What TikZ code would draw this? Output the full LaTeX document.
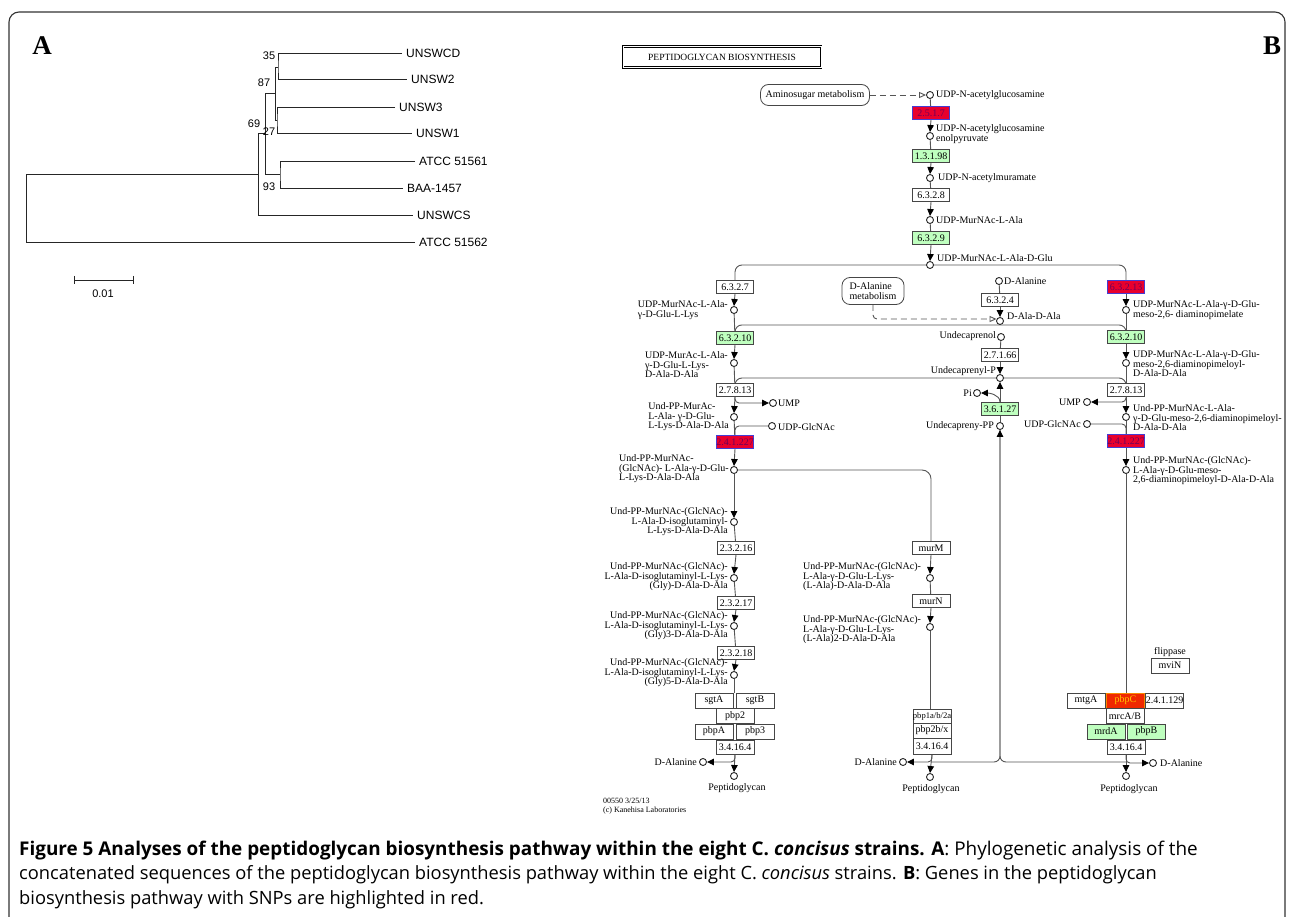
\documentclass[tikz,border=0pt]{standalone}
\usepackage{fontspec}
\setmainfont{Liberation Serif}
\newfontfamily\treefont{Liberation Sans}
\newfontfamily\capfont{Open Sans}
\usetikzlibrary{arrows.meta,calc}
\pgfdeclarelayer{bg}
\pgfdeclarelayer{paper}
\pgfsetlayers{paper,bg,main}
\definecolor{kgreen}{RGB}{191,255,191}
\definecolor{kred}{RGB}{232,0,45}
\definecolor{kredtxt}{RGB}{110,0,90}
\definecolor{kblue}{RGB}{70,60,210}
\definecolor{porange}{RGB}{240,40,0}
\definecolor{pyellow}{RGB}{255,200,0}
\definecolor{boxc}{RGB}{70,70,70}
\definecolor{linec}{RGB}{85,85,85}
\newcommand{\kf}{\fontsize{10}{9.5}\selectfont}
\tikzset{
  ebox/.style={draw=boxc, line width=0.8pt, fill=white, minimum width=37pt, minimum height=13pt, inner sep=0pt, font=\kf},
  gbox/.style={ebox, fill=kgreen},
  rbox/.style={ebox, fill=kred, draw=kblue, text=kredtxt},
  mapbox/.style={draw=boxc, line width=0.8pt, fill=white, rounded corners=8pt, inner sep=0pt, font=\kf, align=left},
  cpd/.style={circle, draw=black!85, line width=0.9pt, fill=white, minimum size=7pt, inner sep=0pt},
  lab/.style={font=\kf, inner sep=0pt},
  ln/.style={draw=linec, line width=0.9pt},
  arr/.style={ln, -{Triangle[width=6.5pt,length=7pt,color=black]}},
  tree/.style={draw=black!85, line width=0.8pt},
  leaf/.style={font=\treefont\fontsize{12}{12}\selectfont, anchor=west, inner sep=4pt},
  boot/.style={font=\treefont\fontsize{11}{11}\selectfont, inner sep=0pt},
  capl/.style={anchor=base west, inner sep=0pt, font=\capfont\fontsize{18.3}{20}\selectfont}
}
\begin{document}
\begin{tikzpicture}[x=1pt,y=-1pt]
\useasboundingbox (0,0) rectangle (1290,917);
\begin{pgfonlayer}{paper}
\fill[white] (0,0) rectangle (1290,917);
\end{pgfonlayer}
% frame
\draw[draw=black!80, line width=1.1pt, rounded corners=10pt] (9,925) -- (9,12) -- (1285,12) -- (1285,925);
\node[font=\bfseries\fontsize{27}{27}\selectfont, inner sep=0pt] (labA) at (42,46) {A};
\node[font=\bfseries\fontsize{27}{27}\selectfont, inner sep=0pt] (labB) at (1272,46) {B};

% ---------- Panel A: tree ----------
\node[leaf] (L1) at (402,53) {UNSWCD};
\node[leaf] (L2) at (407,79) {UNSW2};
\node[leaf] (L3) at (395,107) {UNSW3};
\node[leaf] (L4) at (412,133) {UNSW1};
\node[leaf] (L5) at (415,161) {ATCC 51561};
\node[leaf] (L6) at (403,188) {BAA-1457};
\node[leaf] (L7) at (413,215) {UNSWCS};
\node[leaf] (L8) at (415,242) {ATCC 51562};
\coordinate (root) at (26,174);
\draw[tree] (258,174) -- (root) |- (L8.west);
\draw[tree] (265,133) -- (258,133) |- (L7.west);
\draw[tree] (275,93) -- (265,93) -- (265,174) -- (280,174);
\draw[tree] (L5.west) -| (280,174) |- (L6.west);
\draw[tree] (278,67) -- (275,67) -- (275,120) -- (277,120);
\draw[tree] (L1.west) -| (278,67) |- (L2.west);
\draw[tree] (L3.west) -| (277,120) |- (L4.west);
\node[boot] (b35) at (269,56) {35};
\node[boot] (b87) at (264,83) {87};
\node[boot] (b69) at (254,124) {69};
\node[boot] (b27) at (269,132) {27};
\node[boot] (b93) at (269,187) {93};
\coordinate (sb1) at (74,280);
\coordinate (sb2) at (133,280);
\draw[tree] (sb1) -- (sb2);
\draw[tree] ($(sb1)+(0,-4)$) -- ($(sb1)+(0,4)$);
\draw[tree] ($(sb2)+(0,-4)$) -- ($(sb2)+(0,4)$);
\node[boot] (sbl) at (103,294) {0.01};

% ---------- Panel B: KEGG ----------
\node[draw=black, line width=2.4pt, minimum width=198pt, minimum height=21pt, inner sep=0pt, font=\fontsize{9.5}{9.5}\selectfont] (title) at (722,57) {PEPTIDOGLYCAN BIOSYNTHESIS};
\draw[white, line width=0.6pt] ($(title.south west)+(1.2,-1.2)$) rectangle ($(title.north east)+(-1.2,1.2)$);

% main column
\node[mapbox, minimum width=109pt, minimum height=21pt, align=center] (amino) at (815,95) {Aminosugar metabolism};
\node[cpd] (c1) at (930,95) {};
\node[lab, anchor=west] (t1) at (936,95) {UDP-N-acetylglucosamine};
\node[rbox] (e1) at (931,113) {2.5.1.7};
\node[cpd] (c2) at (930,136) {};
\node[lab, anchor=west, align=left] (t2) at (936,134) {UDP-N-acetylglucosamine\\enolpyruvate};
\node[gbox] (e2) at (931,156) {1.3.1.98};
\node[cpd] (c3) at (930,178) {};
\node[lab, anchor=west] (t3) at (938,178) {UDP-N-acetylmuramate};
\node[ebox] (e3) at (931,195) {6.3.2.8};
\node[cpd] (c4) at (930,220) {};
\node[lab, anchor=west] (t4) at (936,220) {UDP-MurNAc-L-Ala};
\node[gbox] (e4) at (931,238) {6.3.2.9};
\node[cpd] (c5) at (930,265) {};
\node[lab, anchor=west] (t5) at (937,258) {UDP-MurNAc-L-Ala-D-Glu};

% left column
\node[ebox] (l1) at (735,287) {6.3.2.7};
\node[cpd] (lc1) at (734,310) {};
\node[lab, anchor=east, align=left] (tl1) at (728,310) {UDP-MurNAc-L-Ala-\\γ-D-Glu-L-Lys};
\node[gbox] (l2) at (735,338) {6.3.2.10};
\node[cpd] (lc2) at (734,363) {};
\node[lab, anchor=east, align=left] (tl2) at (728,365) {UDP-MurAc-L-Ala-\\γ-D-Glu-L-Lys-\\D-Ala-D-Ala};
\node[ebox] (l3) at (735,390) {2.7.8.13};
\node[cpd] (ump) at (773,403) {};
\node[lab, anchor=west] (tump) at (778,403) {UMP};
\node[cpd] (lc3) at (734,417) {};
\node[lab, anchor=east, align=left] (tl3) at (729,417) {Und-PP-MurAc-\\L-Ala- γ-D-Glu-\\L-Lys-D-Ala-D-Ala};
\node[cpd] (udpg) at (772,426) {};
\node[lab, anchor=west] (tudpg) at (778,427) {UDP-GlcNAc};
\node[rbox] (l4) at (735,442) {2.4.1.227};
\node[cpd] (lc4) at (734,470) {};
\node[lab, anchor=east, align=left] (tl4) at (729,469) {Und-PP-MurNAc-\\(GlcNAc)- L-Ala-γ-D-Glu-\\L-Lys-D-Ala-D-Ala};
\node[cpd] (lc5) at (734,522) {};
\node[lab, anchor=east, align=right] (tl5) at (728,522) {Und-PP-MurNAc-(GlcNAc)-\\L-Ala-D-isoglutaminyl-\\L-Lys-D-Ala-D-Ala};
\node[ebox] (l5) at (736,548) {2.3.2.16};
\node[cpd] (lc6) at (734,578) {};
\node[lab, anchor=east, align=right] (tl6) at (728,577) {Und-PP-MurNAc-(GlcNAc)-\\L-Ala-D-isoglutaminyl-L-Lys-\\(Gly)-D-Ala-D-Ala};
\node[ebox] (l6) at (736,603) {2.3.2.17};
\node[cpd] (lc7) at (734,626) {};
\node[lab, anchor=east, align=right] (tl7) at (728,626) {Und-PP-MurNAc-(GlcNAc)-\\L-Ala-D-isoglutaminyl-L-Lys-\\(Gly)3-D-Ala-D-Ala};
\node[ebox] (l7) at (736,653) {2.3.2.18};
\node[cpd] (lc8) at (734,675) {};
\node[lab, anchor=east, align=right] (tl8) at (728,673) {Und-PP-MurNAc-(GlcNAc)-\\L-Ala-D-isoglutaminyl-L-Lys-\\(Gly)5-D-Ala-D-Ala};
\node[ebox, minimum width=38pt, minimum height=15pt] (sgtA) at (714,700.5) {sgtA};
\node[ebox, minimum width=38pt, minimum height=15pt] (sgtB) at (755,700.5) {sgtB};
\node[ebox, minimum width=38pt, minimum height=15pt] (pbp2) at (735,716) {pbp2};
\node[ebox, minimum width=38pt, minimum height=15pt] (pbpA) at (714,731.5) {pbpA};
\node[ebox, minimum width=38pt, minimum height=15pt] (pbp3) at (755,731.5) {pbp3};
\node[ebox, minimum width=38pt, minimum height=14pt] (l8) at (735,747) {3.4.16.4};
\node[cpd] (dalaL) at (703,762) {};
\node[lab, anchor=east] (tdalaL) at (697,762) {D-Alanine};
\node[cpd] (pepL) at (734,776) {};
\node[lab] (tpepL) at (737,788) {Peptidoglycan};
\node[lab, anchor=north west, align=left, font=\fontsize{8}{8.5}\selectfont] (kegg) at (603,798) {00550 3/25/13\\(c) Kanehisa Laboratories};

% middle column (lysine branch)
\node[ebox, minimum width=38pt] (murM) at (931,548) {murM};
\node[cpd] (mc1) at (930,578) {};
\node[lab, anchor=west, align=left] (tmc1) at (803,577) {Und-PP-MurNAc-(GlcNAc)-\\L-Ala-γ-D-Glu-L-Lys-\\(L-Ala)-D-Ala-D-Ala};
\node[ebox, minimum width=38pt] (murN) at (931,601) {murN};
\node[cpd] (mc2) at (930,627) {};
\node[lab, anchor=west, align=left] (tmc2) at (803,630) {Und-PP-MurNAc-(GlcNAc)-\\L-Ala-γ-D-Glu-L-Lys-\\(L-Ala)2-D-Ala-D-Ala};
\node[ebox, minimum width=38pt, minimum height=14pt, font=\fontsize{8.6}{9}\selectfont] (pbp1) at (932,716) {pbp1a/b/2a};
\node[ebox, minimum width=38pt, minimum height=15pt] (pbp2b) at (932,730.5) {pbp2b/x};
\node[ebox, minimum width=38pt, minimum height=16pt] (m3) at (932,746) {3.4.16.4};
\node[cpd] (dalaM) at (903,762) {};
\node[lab, anchor=east] (tdalaM) at (897,762) {D-Alanine};
\node[cpd] (pepM) at (930,777) {};
\node[lab] (tpepM) at (931,789) {Peptidoglycan};
\coordinate (jm) at (931,762);

% middle column (undecaprenol)
\node[cpd] (dal) at (999,281) {};
\node[lab, anchor=west] (tdal) at (1004,281) {D-Alanine};
\node[ebox] (m1) at (1000,300) {6.3.2.4};
\node[cpd] (dada) at (1000,321) {};
\node[lab, anchor=west] (tdada) at (1007,316) {D-Ala-D-Ala};
\node[mapbox, minimum width=62pt, minimum height=27pt] (dameta) at (873,291) {D-Alanine\\metabolism};
\node[cpd] (undol) at (1001,337) {};
\node[lab, anchor=east] (tundol) at (996,336) {Undecaprenol};
\node[ebox] (m2) at (1000,355) {2.7.1.66};
\node[cpd] (undp) at (1000,378) {};
\node[lab, anchor=east] (tundp) at (996,371) {Undecaprenyl-P};
\node[cpd] (pi) at (977,393) {};
\node[lab, anchor=east] (tpi) at (972,393) {Pi};
\node[gbox] (m4) at (1000,409) {3.6.1.27};
\node[cpd] (udpp) at (1000,426) {};
\node[lab, anchor=east] (tudpp) at (994,426) {Undecapreny-PP};

% right column
\node[rbox] (r1) at (1126,287) {6.3.2.13};
\node[cpd] (rc1) at (1126,310) {};
\node[lab, anchor=west, align=left] (tr1) at (1133,310) {UDP-MurNAc-L-Ala-γ-D-Glu-\\meso-2,6- diaminopimelate};
\node[gbox] (r2) at (1126,337) {6.3.2.10};
\node[cpd] (rc2) at (1126,363) {};
\node[lab, anchor=west, align=left] (tr2) at (1133,364) {UDP-MurNAc-L-Ala-γ-D-Glu-\\meso-2,6-diaminopimeloyl-\\D-Ala-D-Ala};
\node[ebox] (r3) at (1126,390) {2.7.8.13};
\node[cpd] (umpR) at (1087,402) {};
\node[lab, anchor=east] (tumpR) at (1081,402) {UMP};
\node[cpd] (rc3) at (1126,417) {};
\node[lab, anchor=west, align=left] (tr3) at (1133,418) {Und-PP-MurNAc-L-Ala-\\γ-D-Glu-meso-2,6-diaminopimeloyl-\\D-Ala-D-Ala};
\node[cpd] (udpgR) at (1087,424) {};
\node[lab, anchor=east] (tudpgR) at (1081,424) {UDP-GlcNAc};
\node[rbox] (r4) at (1126,441) {2.4.1.227};
\node[cpd] (rc4) at (1126,470) {};
\node[lab, anchor=west, align=left] (tr4) at (1133,471) {Und-PP-MurNAc-(GlcNAc)-\\L-Ala-γ-D-Glu-meso-\\2,6-diaminopimeloyl-D-Ala-D-Ala};
\node[lab] (tflip) at (1170,652) {flippase};
\node[ebox, minimum width=38pt, minimum height=15pt] (mviN) at (1170,665.5) {mviN};
\node[ebox, minimum width=38pt, minimum height=15pt] (mtgA) at (1086,700.5) {mtgA};
\node[ebox, minimum width=38pt, minimum height=15pt, fill=porange, draw=pyellow!60!porange, text=pyellow] (pbpC) at (1125.5,700.5) {pbpC};
\node[ebox, minimum width=38pt, minimum height=15pt] (e24) at (1164.5,700.5) {2.4.1.129};
\node[ebox, minimum width=38pt, minimum height=15pt] (mrcA) at (1125,716) {mrcA/B};
\node[gbox, minimum width=38pt, minimum height=15pt] (mrdA) at (1106,731.5) {mrdA};
\node[gbox, minimum width=38pt, minimum height=15pt] (pbpB) at (1146.5,731.5) {pbpB};
\node[ebox, minimum width=38pt, minimum height=14pt] (r8) at (1126,747) {3.4.16.4};
\node[cpd] (dalaR) at (1153,763) {};
\node[lab, anchor=west] (tdalaR) at (1160,763) {D-Alanine};
\node[cpd] (pepR) at (1126,776) {};
\node[lab] (tpepR) at (1129,789) {Peptidoglycan};
\coordinate (jr) at (1126,762);

% ---------- connectors ----------
\begin{pgfonlayer}{bg}
\draw[ln, dashed, dash pattern=on 6pt off 4pt, -{Triangle[open,width=6pt,length=7pt]}] (amino.east) -- (c1.west);
\draw[ln] (c1) -- (e1);
\draw[arr] (e1.south) -- (c2.north);
\draw[ln] (c2) -- (e2);
\draw[arr] (e2.south) -- (c3.north);
\draw[ln] (c3) -- (e3);
\draw[arr] (e3.south) -- (c4.north);
\draw[ln] (c4) -- (e4);
\draw[arr] (e4.south) -- (c5.north);
\draw[ln, rounded corners=7pt] (l1.north) |- (c5.center) -| (r1.north);
% left
\draw[arr] (l1.south) -- (lc1.north);
\draw[ln] (lc1) -- (l2);
\draw[ln, rounded corners=7pt] (l2.north) |- (dada.south) -| (r2.north);
\draw[arr] (l2.south) -- (lc2.north);
\draw[ln] (lc2) -- (l3);
\draw[ln, rounded corners=7pt] (l3.north) |- (undp.center) -| (r3.north);
\draw[arr, rounded corners=4pt] (l3.south) |- (ump.west);
\draw[arr] (l3.south) -- (lc3.north);
\draw[ln] (lc3) -- (l4);
\draw[ln, rounded corners=4pt] (udpg.west) -| (l4.north);
\draw[arr] (l4.south) -- (lc4.north);
\draw[arr] (lc4.south) -- (lc5.north);
\draw[ln] (lc5) -- (l5);
\draw[arr] (l5.south) -- (lc6.north);
\draw[ln] (lc6) -- (l6);
\draw[arr] (l6.south) -- (lc7.north);
\draw[ln] (lc7) -- (l7);
\draw[arr] (l7.south) -- (lc8.north);
\draw[ln] (lc8.south) -- (lc8.south |- sgtA.north);
\draw[arr, rounded corners=4pt] (l8.south) |- (dalaL.east);
\draw[arr] (l8.south) -- (pepL.north);
% middle lysine branch
\draw[ln, rounded corners=9pt] (lc4.center) -| (murM.north);
\draw[arr] (murM.south) -- (mc1.north);
\draw[ln] (mc1) -- (murN);
\draw[arr] (murN.south) -- (mc2.north);
\draw[ln] (mc2.south) -- (mc2.south |- pbp1.north);
\draw[arr, rounded corners=4pt] (m3.south) |- (dalaM.east);
\draw[arr] (m3.south) -- (pepM.north);
\draw[ln, rounded corners=6pt] (jm) -| (udpp.south);
\draw[arr, rounded corners=6pt] (jr) -| (udpp.south);
% undecaprenol
\draw[ln] (dal) -- (m1);
\draw[arr] (m1.south) -- (dada.north);
\draw[ln, dashed, dash pattern=on 6pt off 4pt, rounded corners=4pt, -{Triangle[open,width=6pt,length=7pt]}] (dameta.south) |- (dada.150);
\draw[ln] (undol) -- (m2);
\draw[arr] (m2.south) -- (undp.north);
\draw[arr] (m4.north) -- (undp.south);
\draw[arr] (m4.north) .. controls +(0,-8) and +(7,0) .. (pi.east);
\draw[ln] (udpp) -- (m4);
% right
\draw[arr] (r1.south) -- (rc1.north);
\draw[ln] (rc1) -- (r2);
\draw[arr] (r2.south) -- (rc2.north);
\draw[ln] (rc2) -- (r3);
\draw[arr, rounded corners=4pt] (r3.south) |- (umpR.east);
\draw[arr] (r3.south) -- (rc3.north);
\draw[ln] (rc3) -- (r4);
\draw[ln, rounded corners=4pt] (udpgR.east) -| (r4.north);
\draw[arr] (r4.south) -- (rc4.north);
\draw[ln] (rc4.south) -- (rc4.south |- pbpC.north);
\draw[arr, rounded corners=4pt] (r8.south) |- (dalaR.west);
\draw[arr] (r8.south) -- (pepR.north);
\end{pgfonlayer}

% ---------- caption ----------
\node[capl, font=\capfont\fontsize{18.9}{20}\selectfont] (cap1) at (19,855) {\textbf{Figure 5 Analyses of the peptidoglycan biosynthesis pathway within the eight C. \textit{concisus} strains. A}: Phylogenetic analysis of the};
\node[capl] (cap2) at (19,879) {concatenated sequences of the peptidoglycan biosynthesis pathway within the eight C. \textit{concisus} strains. \textbf{B}: Genes in the peptidoglycan};
\node[capl] (cap3) at (19,904) {biosynthesis pathway with SNPs are highlighted in red.};
\end{tikzpicture}
\end{document}
